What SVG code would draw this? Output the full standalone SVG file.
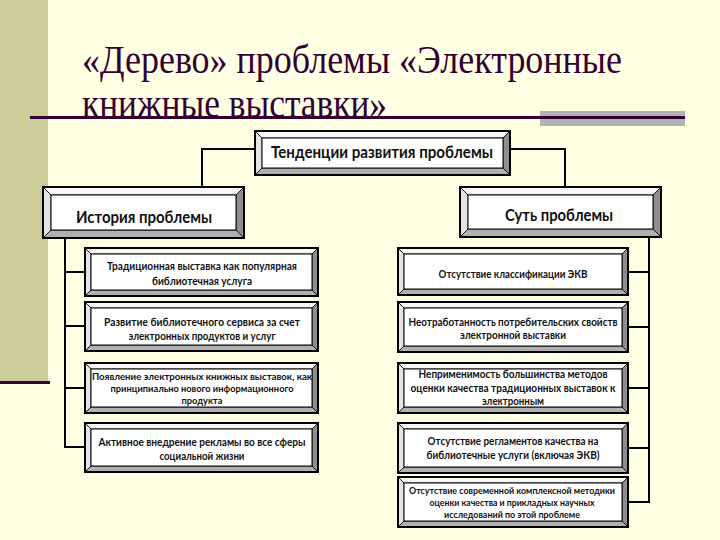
<svg xmlns="http://www.w3.org/2000/svg" width="720" height="540" viewBox="0 0 720 540">
<style>
.bg{fill:#FFFFE3}
.side{fill:#CCCC99}
.dk{fill:#330033}
.title{font-family:"Liberation Serif","Times New Roman",serif;font-size:39px;fill:#330033}
.bt,.bl,.br,.bb{stroke:#000;stroke-width:0.8;stroke-linejoin:round}
.bt{fill:#F7F7F7}
.bl{fill:#E4E4E4}
.br{fill:#8E8E8E}
.bb{fill:#B0B0B0}
.face{fill:#FFFFFF;stroke:#000;stroke-width:1}
.out{fill:none;stroke:#000;stroke-width:2}
.h{font-family:Lato,"Noto Sans","DejaVu Sans",sans-serif;font-weight:bold;font-size:17px;fill:#111;text-anchor:middle}
.t{font-family:Lato,"Noto Sans","DejaVu Sans",sans-serif;font-weight:bold;font-size:11px;fill:#111;text-anchor:middle}
.s{font-size:10px}
.conn{fill:none;stroke:#000;stroke-width:2}
</style>
<rect class="bg" x="0" y="0" width="720" height="540"/>
<rect class="side" x="0" y="0" width="48" height="382"/>
<rect class="dk" x="0" y="381" width="50" height="3"/>
<rect x="540" y="111" width="145" height="15" fill="#B2B2B2"/>
<text class="title" x="82" y="73" textLength="540" lengthAdjust="spacingAndGlyphs">«Дерево» проблемы «Электронные</text>
<text class="title" x="82" y="117" textLength="305" lengthAdjust="spacingAndGlyphs">книжные выставки»</text>
<rect class="dk" x="30" y="116" width="655" height="3"/>

<g id="connectors">
<polyline class="conn" points="255,149 202,149 202,187"/>
<polyline class="conn" points="510,149 565,149 565,187"/>
<polyline class="conn" points="65,238 65,447 85,447"/>
<line class="conn" x1="65" y1="272" x2="85" y2="272"/>
<line class="conn" x1="65" y1="326" x2="85" y2="326"/>
<line class="conn" x1="65" y1="388" x2="85" y2="388"/>
<polyline class="conn" points="649,237 649,502 628,502"/>
<line class="conn" x1="628" y1="272" x2="649" y2="272"/>
<line class="conn" x1="628" y1="327" x2="649" y2="327"/>
<line class="conn" x1="628" y1="388" x2="649" y2="388"/>
<line class="conn" x1="628" y1="448" x2="649" y2="448"/>
</g>

<g id="top">
<polygon class="bt" points="255,131 510,131 503,138 262,138"/>
<polygon class="bl" points="255,131 262,138 262,168 255,175"/>
<polygon class="br" points="510,131 510,175 503,168 503,138"/>
<polygon class="bb" points="255,175 510,175 503,168 262,168"/>
<rect class="face" x="262" y="138" width="241" height="30"/>
<rect class="out" x="255" y="131" width="255" height="44"/>
<text class="h" x="382" y="158" font-size="16" textLength="222" lengthAdjust="spacingAndGlyphs">Тенденции развития проблемы</text>
</g>

<g id="history">
<polygon class="bt" points="43,187 244,187 236,195 51,195"/>
<polygon class="bl" points="43,187 51,195 51,230 43,238"/>
<polygon class="br" points="244,187 244,238 236,230 236,195"/>
<polygon class="bb" points="43,238 244,238 236,230 51,230"/>
<rect class="face" x="51" y="195" width="185" height="35"/>
<rect class="out" x="43" y="187" width="201" height="51"/>
<text class="h" x="144" y="223" textLength="136" lengthAdjust="spacingAndGlyphs">История проблемы</text>
</g>

<g id="essence">
<polygon class="bt" points="460,187 661,187 653,195 468,195"/>
<polygon class="bl" points="460,187 468,195 468,229 460,237"/>
<polygon class="br" points="661,187 661,237 653,229 653,195"/>
<polygon class="bb" points="460,237 661,237 653,229 468,229"/>
<rect class="face" x="468" y="195" width="185" height="34"/>
<rect class="out" x="460" y="187" width="201" height="50"/>
<text class="h" x="559" y="221" textLength="108" lengthAdjust="spacingAndGlyphs">Суть проблемы</text>
</g>

<g id="l1">
<polygon class="bt" points="85,248 318,248 312,254 91,254"/>
<polygon class="bl" points="85,248 91,254 91,290 85,296"/>
<polygon class="br" points="318,248 318,296 312,290 312,254"/>
<polygon class="bb" points="85,296 318,296 312,290 91,290"/>
<rect class="face" x="91" y="254" width="221" height="36"/>
<rect class="out" x="85" y="248" width="233" height="48"/>
<text class="t" x="202" y="270" textLength="190" lengthAdjust="spacingAndGlyphs">Традиционная выставка как популярная</text>
<text class="t" x="202" y="285" textLength="100" lengthAdjust="spacingAndGlyphs">библиотечная услуга</text>
</g>

<g id="l2">
<polygon class="bt" points="85,302 318,302 312,308 91,308"/>
<polygon class="bl" points="85,302 91,308 91,345 85,351"/>
<polygon class="br" points="318,302 318,351 312,345 312,308"/>
<polygon class="bb" points="85,351 318,351 312,345 91,345"/>
<rect class="face" x="91" y="308" width="221" height="37"/>
<rect class="out" x="85" y="302" width="233" height="49"/>
<text class="t" x="202" y="326" textLength="196" lengthAdjust="spacingAndGlyphs">Развитие библиотечного сервиса за счет</text>
<text class="t" x="202" y="340" textLength="147" lengthAdjust="spacingAndGlyphs">электронных продуктов и услуг</text>
</g>

<g id="l3">
<polygon class="bt" points="85,363 318,363 312,369 91,369"/>
<polygon class="bl" points="85,363 91,369 91,407 85,413"/>
<polygon class="br" points="318,363 318,413 312,407 312,369"/>
<polygon class="bb" points="85,413 318,413 312,407 91,407"/>
<rect class="face" x="91" y="369" width="221" height="38"/>
<rect class="out" x="85" y="363" width="233" height="50"/>
<text class="t s" x="202" y="380" textLength="220" lengthAdjust="spacingAndGlyphs">Появление электронных книжных выставок, как</text>
<text class="t s" x="202" y="392" textLength="183" lengthAdjust="spacingAndGlyphs">принципиально нового информационного</text>
<text class="t s" x="202" y="404" textLength="41" lengthAdjust="spacingAndGlyphs">продукта</text>
</g>

<g id="l4">
<polygon class="bt" points="85,423 318,423 312,429 91,429"/>
<polygon class="bl" points="85,423 91,429 91,466 85,472"/>
<polygon class="br" points="318,423 318,472 312,466 312,429"/>
<polygon class="bb" points="85,472 318,472 312,466 91,466"/>
<rect class="face" x="91" y="429" width="221" height="37"/>
<rect class="out" x="85" y="423" width="233" height="49"/>
<text class="t" x="202" y="446" textLength="207" lengthAdjust="spacingAndGlyphs">Активное внедрение рекламы во все сферы</text>
<text class="t" x="202" y="460" textLength="85" lengthAdjust="spacingAndGlyphs">социальной жизни</text>
</g>

<g id="r1">
<polygon class="bt" points="398,248 628,248 622,254 404,254"/>
<polygon class="bl" points="398,248 404,254 404,289 398,295"/>
<polygon class="br" points="628,248 628,295 622,289 622,254"/>
<polygon class="bb" points="398,295 628,295 622,289 404,289"/>
<rect class="face" x="404" y="254" width="218" height="35"/>
<rect class="out" x="398" y="248" width="230" height="47"/>
<text class="t" x="513" y="278" textLength="149" lengthAdjust="spacingAndGlyphs">Отсутствие классификации ЭКВ</text>
</g>

<g id="r2">
<polygon class="bt" points="398,302 628,302 622,308 404,308"/>
<polygon class="bl" points="398,302 404,308 404,346 398,352"/>
<polygon class="br" points="628,302 628,352 622,346 622,308"/>
<polygon class="bb" points="398,352 628,352 622,346 404,346"/>
<rect class="face" x="404" y="308" width="218" height="38"/>
<rect class="out" x="398" y="302" width="230" height="50"/>
<text class="t" x="513" y="326" textLength="209" lengthAdjust="spacingAndGlyphs">Неотработанность потребительских свойств</text>
<text class="t" x="513" y="339" textLength="106" lengthAdjust="spacingAndGlyphs">электронной выставки</text>
</g>

<g id="r3">
<polygon class="bt" points="398,363 628,363 622,369 404,369"/>
<polygon class="bl" points="398,363 404,369 404,407 398,413"/>
<polygon class="br" points="628,363 628,413 622,407 622,369"/>
<polygon class="bb" points="398,413 628,413 622,407 404,407"/>
<rect class="face" x="404" y="369" width="218" height="38"/>
<rect class="out" x="398" y="363" width="230" height="50"/>
<text class="t" x="513" y="378" textLength="189" lengthAdjust="spacingAndGlyphs">Неприменимость большинства методов</text>
<text class="t" x="513" y="392" textLength="205" lengthAdjust="spacingAndGlyphs">оценки качества традиционных выставок к</text>
<text class="t" x="513" y="405" textLength="62" lengthAdjust="spacingAndGlyphs">электронным</text>
</g>

<g id="r4">
<polygon class="bt" points="398,423 628,423 622,429 404,429"/>
<polygon class="bl" points="398,423 404,429 404,467 398,473"/>
<polygon class="br" points="628,423 628,473 622,467 622,429"/>
<polygon class="bb" points="398,473 628,473 622,467 404,467"/>
<rect class="face" x="404" y="429" width="218" height="38"/>
<rect class="out" x="398" y="423" width="230" height="50"/>
<text class="t" x="513" y="445" textLength="171" lengthAdjust="spacingAndGlyphs">Отсутствие регламентов качества на</text>
<text class="t" x="513" y="459" textLength="173" lengthAdjust="spacingAndGlyphs">библиотечные услуги (включая ЭКВ)</text>
</g>

<g id="r5">
<polygon class="bt" points="398,477 628,477 622,483 404,483"/>
<polygon class="bl" points="398,477 404,483 404,521 398,527"/>
<polygon class="br" points="628,477 628,527 622,521 622,483"/>
<polygon class="bb" points="398,527 628,527 622,521 404,521"/>
<rect class="face" x="404" y="483" width="218" height="38"/>
<rect class="out" x="398" y="477" width="230" height="50"/>
<text class="t s" x="512" y="494" textLength="206" lengthAdjust="spacingAndGlyphs">Отсутствие современной комплексной методики</text>
<text class="t s" x="512" y="506" textLength="165" lengthAdjust="spacingAndGlyphs">оценки качества и прикладных научных</text>
<text class="t s" x="512" y="518" textLength="136" lengthAdjust="spacingAndGlyphs">исследований по этой проблеме</text>
</g>
</svg>
